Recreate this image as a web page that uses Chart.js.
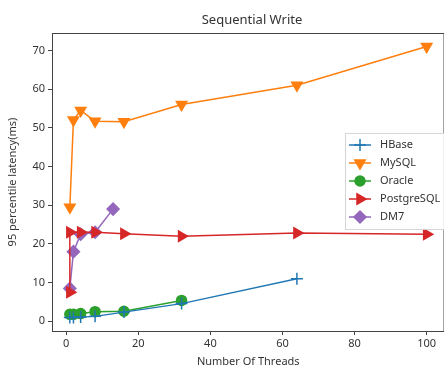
<!DOCTYPE html>
<html>
<head>
<meta charset="utf-8">
<script src="https://cdn.jsdelivr.net/npm/chart.js@4/dist/chart.umd.min.js"></script>
<style>
  html, body { margin: 0; padding: 0; background: #fff; overflow: hidden; }
  #wrap { width: 444px; height: 368px; overflow: hidden; }
</style>
</head>
<body>
<div id="wrap"><canvas id="myChart" width="452" height="368"></canvas></div>
<script>
// values
const hbaseThreads = [1, 2, 4, 8, 16, 32, 64];
const hbaseLatency = [1.0, 1.0, 1.1, 1.3, 2.4, 4.6, 11.0];

const mysqlThreads = [1, 2, 4, 8, 16, 32, 64, 100];
const mysqlLatency = [29.5, 52.0, 54.5, 51.7, 51.6, 56.0, 61.0, 71.0];

const oracleThreads = [1, 2, 4, 8, 16, 32];
const oracleLatency = [1.8, 1.8, 2.0, 2.5, 2.6, 5.4];

const pgThreads = [1, 1, 4, 8, 16, 32, 64, 100];
const pgLatency = [7.5, 23.0, 23.0, 23.0, 22.6, 22.0, 22.8, 22.5];

const dm7Threads = [1, 2, 4, 8, 13];
const dm7Latency = [8.5, 18.0, 22.5, 23.0, 29.0];

const xTicks = [0, 20, 40, 60, 80, 100];
const yTicks = [0, 10, 20, 30, 40, 50, 60, 70];

const FONT = "'Noto Sans', 'Open Sans', sans-serif";
const TEXT = "#333";

const toPoints = (xs, ys) => xs.map((x, i) => ({ x: x, y: ys[i] }));

// frame, title and the legend box inside the plot
const framePlugin = {
  id: "frame",
  afterDraw(chart) {
    const { ctx, chartArea } = chart;
    ctx.save();
    ctx.strokeStyle = "#444";
    ctx.lineWidth = 1;
    ctx.strokeRect(chartArea.left + 0.5, chartArea.top + 0.5,
      chartArea.right - chartArea.left - 1, chartArea.bottom - chartArea.top);

    ctx.fillStyle = TEXT;
    ctx.font = "13px " + FONT;
    ctx.textAlign = "center";
    ctx.textBaseline = "middle";
    ctx.fillText("Sequential Write", 252, 20);

    // legend
    const lx = 345, ly = 133, lw = 110, lh = 96;
    ctx.fillStyle = "rgba(255,255,255,0.85)";
    ctx.fillRect(lx, ly, lw, lh);
    ctx.strokeStyle = "#d6d6d6";
    ctx.strokeRect(lx + 0.5, ly + 0.5, lw, lh);
    chart.data.datasets.forEach((ds, i) => {
      const y = ly + 12 + i * 18;
      ctx.strokeStyle = ds.borderColor;
      ctx.fillStyle = ds.borderColor;
      ctx.lineWidth = 1.5;
      ctx.beginPath();
      ctx.moveTo(lx + 4, y);
      ctx.lineTo(lx + 26, y);
      ctx.stroke();
      Chart.helpers.drawPoint(ctx, {
        pointStyle: ds.pointStyle,
        rotation: ds.pointRotation || 0,
        radius: ds.pointRadius,
        borderWidth: 1.5
      }, lx + 15, y);
      ctx.fillStyle = TEXT;
      ctx.font = "11px " + FONT;
      ctx.textAlign = "left";
      ctx.fillText(ds.label, lx + 35, y);
    });
    ctx.restore();
  }
};

function series(label, color, xs, ys, style, rotation, radius, width) {
  return {
    label: label,
    data: toPoints(xs, ys),
    borderColor: color,
    backgroundColor: color,
    pointBackgroundColor: color,
    pointBorderColor: color,
    pointStyle: style,
    pointRotation: rotation,
    pointRadius: radius,
    pointBorderWidth: 1.5,
    borderWidth: width,
    showLine: true,
    tension: 0
  };
}

const datasets = [
  series("HBase", "#1f77b4", hbaseThreads, hbaseLatency, "cross", 0, 6, 1.3),
  series("MySQL", "#ff7f0e", mysqlThreads, mysqlLatency, "triangle", 180, 6, 1.5),
  series("Oracle", "#2ca02c", oracleThreads, oracleLatency, "circle", 0, 5, 1.5),
  series("PostgreSQL", "#d62728", pgThreads, pgLatency, "triangle", 90, 6, 1.5),
  series("DM7", "#9467bd", dm7Threads, dm7Latency, "rectRot", 0, 6, 1.5)
];

const ctx = document.getElementById("myChart").getContext("2d");
new Chart(ctx, {
  type: "scatter",
  data: { datasets: datasets },
  options: {
    responsive: false,
    animation: false,
    layout: { padding: { top: 33, right: 0, left: 0, bottom: 0 } },
    plugins: { legend: { display: false }, tooltip: { enabled: false } },
    scales: {
      x: {
        type: "linear",
        min: -3.95,
        max: 104.95,
        afterBuildTicks: (s) => { s.ticks = xTicks.map(v => ({ value: v })); },
        afterFit: (s) => { s.height = 37; },
        grid: { drawOnChartArea: false, drawTicks: true, tickLength: 4, color: "#444" },
        border: { display: false },
        ticks: { color: TEXT, font: { family: FONT, size: 11 }, padding: 2, maxRotation: 0 },
        title: { display: true, text: "Number Of Threads", color: TEXT,
                 font: { family: FONT, size: 11 }, padding: { top: 0, bottom: 0 } }
      },
      y: {
        type: "linear",
        min: -2.5,
        max: 74.5,
        afterBuildTicks: (s) => { s.ticks = yTicks.map(v => ({ value: v })); },
        afterFit: (s) => { s.width = 52; },
        grid: { drawOnChartArea: false, drawTicks: true, tickLength: 4, color: "#444" },
        border: { display: false },
        ticks: { color: TEXT, font: { family: FONT, size: 11 }, padding: 3 },
        title: { display: true, text: "95 percentile latency(ms)", color: TEXT,
                 font: { family: FONT, size: 11 }, padding: { top: 6, bottom: 0 } }
      }
    }
  },
  plugins: [framePlugin]
});
</script>
</body>
</html>
